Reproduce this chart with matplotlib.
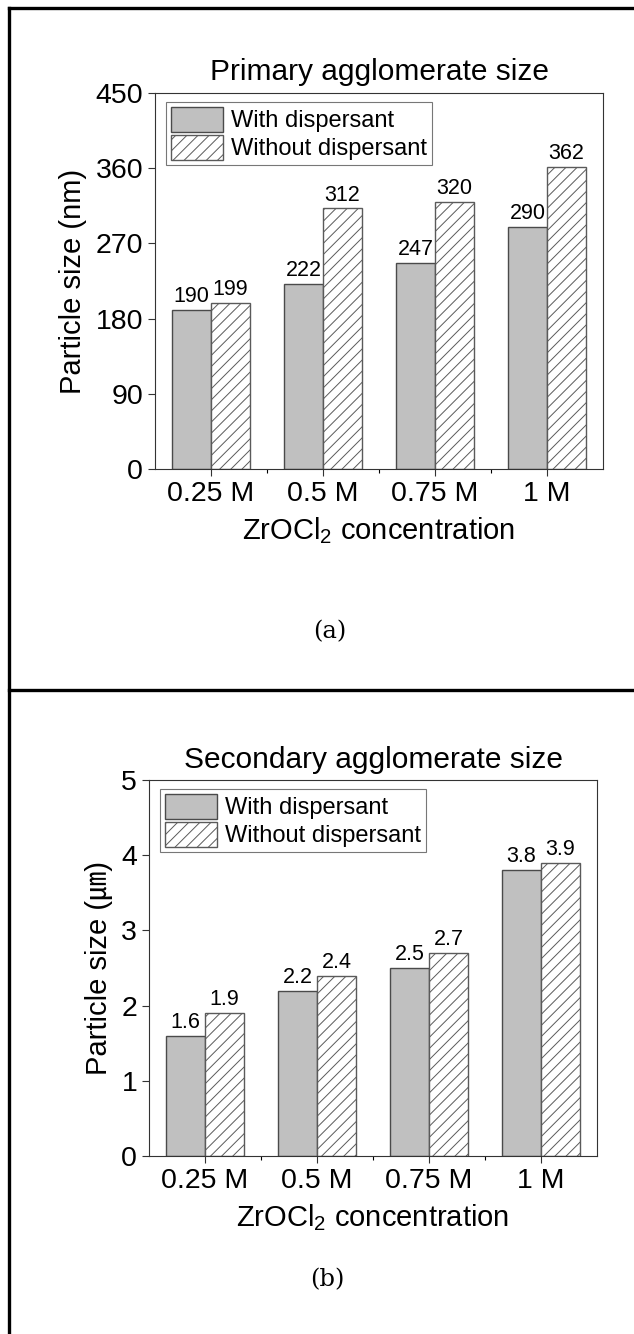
#!/usr/bin/env python3
"""Primary and secondary agglomerate size of ZrO2 powders, with and without dispersant."""

import matplotlib

matplotlib.use("Agg")
import matplotlib.pyplot as plt
import numpy as np
from matplotlib.lines import Line2D

concentrations = ["0.25 M", "0.5 M", "0.75 M", "1 M"]
series_names = ["With dispersant", "Without dispersant"]

primary_with = [190, 222, 247, 290]
primary_without = [199, 312, 320, 362]
primary_ticks = [0, 90, 180, 270, 360, 450]

secondary_with = [1.6, 2.2, 2.5, 3.8]
secondary_without = [1.9, 2.4, 2.7, 3.9]
secondary_ticks = [0, 1, 2, 3, 4, 5]

plt.rcParams["font.family"] = ["Liberation Sans", "Noto Sans CJK KR", "DejaVu Sans"]
plt.rcParams["mathtext.fontset"] = "custom"
plt.rcParams["mathtext.rm"] = "Liberation Sans"
plt.rcParams["hatch.linewidth"] = 0.7

W, H = 634, 1334
GRAY = "#c0c0c0"
EDGE = "#4a4a4a"


def draw_panel(ax, with_vals, without_vals, yticks, title, ylabel, fmt):
    x = np.arange(len(concentrations))
    w = 0.35
    b1 = ax.bar(x - w / 2, with_vals, w, color=GRAY, edgecolor=EDGE, linewidth=1.0,
                label=series_names[0])
    b2 = ax.bar(x + w / 2, without_vals, w, color="white", edgecolor="#5a5a5a",
                linewidth=1.0, hatch="///", label=series_names[1])
    for bars, vals in ((b1, with_vals), (b2, without_vals)):
        for rect, v in zip(bars, vals):
            ax.annotate(fmt.format(v), (rect.get_x() + rect.get_width() / 2, v),
                        xytext=(0, 2), textcoords="offset points",
                        ha="center", va="bottom", fontsize=15.5)
    ax.set_xlim(-0.5, len(concentrations) - 0.5)
    ax.set_ylim(yticks[0], yticks[-1])
    ax.set_yticks(yticks)
    ax.set_xticks(x)
    ax.set_xticklabels(concentrations)
    ax.set_xticks(x[:-1] + 0.5, minor=True)
    ax.tick_params(axis="both", which="major", direction="out", length=5,
                   width=0.8, labelsize=20.5, color="#333333")
    ax.tick_params(axis="x", which="minor", direction="out", length=3, width=0.8)
    ax.tick_params(axis="y", which="minor", left=False)
    for s in ax.spines.values():
        s.set_linewidth(0.8)
        s.set_color("#333333")
    ax.set_title(title, fontsize=21.5, pad=9)
    ax.set_ylabel(ylabel, fontsize=21, labelpad=6)
    ax.set_xlabel(r"ZrOCl$_\mathregular{2}$ concentration", fontsize=21, labelpad=6)
    leg = ax.legend(loc="upper left", bbox_to_anchor=(0.025, 0.976), borderaxespad=0,
                    fontsize=17, frameon=True, fancybox=False, handlelength=2.2,
                    handleheight=1.25, labelspacing=0.12, handletextpad=0.35,
                    borderpad=0.2)
    leg.get_frame().set_edgecolor("#555555")
    leg.get_frame().set_linewidth(0.8)


def main():
    fig = plt.figure(figsize=(W / 100, H / 100), dpi=100)

    ax_a = fig.add_axes([155 / W, 1 - 469 / H, 448 / W, 376 / H])
    draw_panel(ax_a, primary_with, primary_without, primary_ticks,
               "Primary agglomerate size", "Particle size (nm)", "{:d}")

    ax_b = fig.add_axes([149 / W, 1 - 1156 / H, 448 / W, 376 / H])
    draw_panel(ax_b, secondary_with, secondary_without, secondary_ticks,
               "Secondary agglomerate size", "Particle size (㎛)", "{:.1f}")

    fig.text(330 / W, 1 - 632 / H, "(a)", ha="center", va="center",
             fontsize=17.5, family="DejaVu Serif")
    fig.text(327 / W, 1 - 1280 / H, "(b)", ha="center", va="center",
             fontsize=17.5, family="DejaVu Serif")

    # outer frame of the figure
    lw = 2.4
    for xs, ys in (([9 / W, 9 / W], [0, 1 - 8 / H]),
                   ([9 / W, 1], [1 - 8 / H, 1 - 8 / H]),
                   ([9 / W, 1], [1 - 690 / H, 1 - 690 / H])):
        fig.add_artist(Line2D(xs, ys, transform=fig.transFigure, color="black", lw=lw))

    fig.savefig("out.png", dpi=100)


if __name__ == "__main__":
    main()
